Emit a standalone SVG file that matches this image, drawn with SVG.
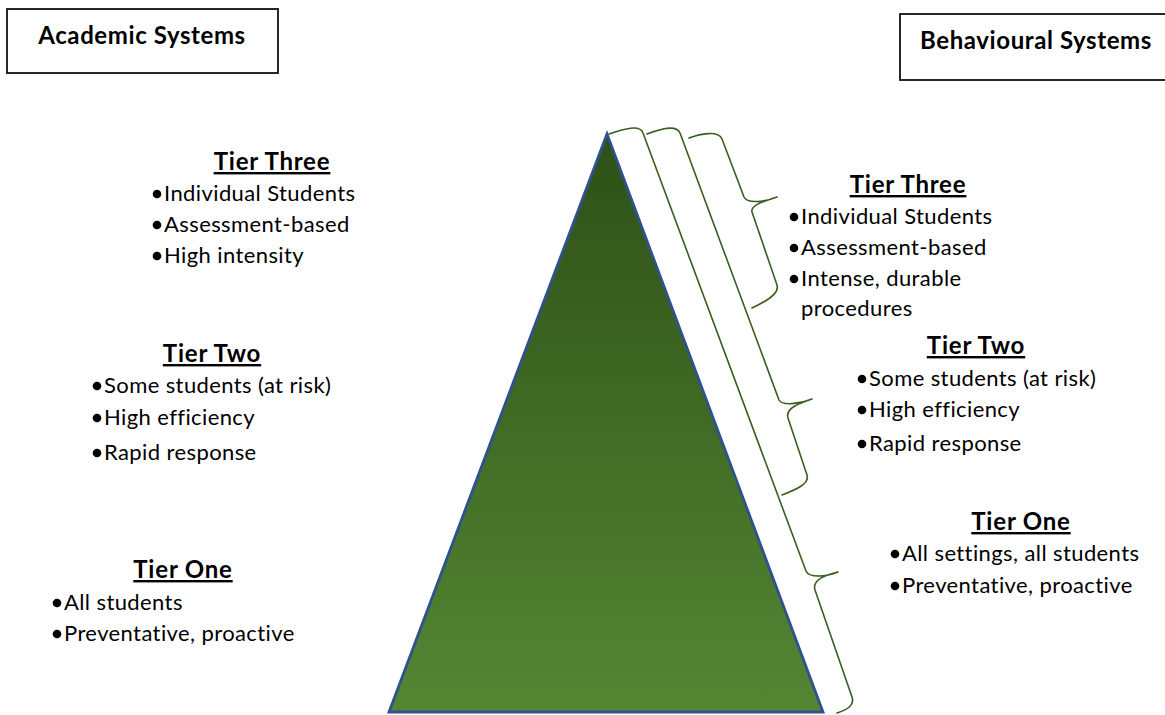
<svg xmlns="http://www.w3.org/2000/svg" width="1165" height="715" viewBox="0 0 1165 715">
  <style>
    .box { fill: #ffffff; stroke: #111111; stroke-width: 1.8; }
    .boxlabel { font-family: "Lato", "Open Sans", "Liberation Sans", sans-serif; font-weight: bold; font-size: 24px; letter-spacing: 0.6px; fill: #000000; }
    .title { font-family: "Lato", "Open Sans", "Liberation Sans", sans-serif; font-weight: bold; font-size: 24px; letter-spacing: 0.8px; fill: #000000; text-decoration: underline; }
    .item { font-family: "Lato", "Open Sans", "Liberation Sans", sans-serif; font-size: 22px; letter-spacing: 0.4px; fill: #000000; }
    .dot { fill: #000000; }
    .brace { fill: none; stroke: #3a5e1e; stroke-width: 1.6; stroke-linejoin: round; stroke-linecap: round; }
  </style>
  <defs>
    <linearGradient id="pyramidFill" x1="0" y1="0" x2="0" y2="1">
      <stop offset="0" stop-color="#2e5017"/>
      <stop offset="1" stop-color="#548633"/>
    </linearGradient>
  </defs>

  <rect width="1165" height="715" fill="#ffffff"/>

  <!-- header boxes -->
  <g id="academic-systems">
    <rect class="box" x="7" y="9" width="271" height="64"/>
    <text class="boxlabel" x="142" y="44" text-anchor="middle">Academic Systems</text>
  </g>
  <g id="behavioural-systems">
    <rect class="box" x="900" y="14" width="280" height="66"/>
    <text class="boxlabel" x="1036" y="49" text-anchor="middle">Behavioural Systems</text>
  </g>

  <!-- pyramid -->
  <g id="pyramid">
    <polygon points="607,134 389,712 823,712" fill="url(#pyramidFill)" stroke="#2f528f" stroke-width="2.8" stroke-linejoin="miter"/>
  </g>

  <!-- braces along the right slope -->
  <g id="connectors">
    <path class="brace" d="M 609,134 C 624,129 640,124 643,133 L 806,571 C 809,578 826,577 838,572 C 825,575 812,580 815,590 L 852,697 C 855,706 846,710 837,713"/>
    <path class="brace" d="M 647,134 C 660,129 676,124 680,133 L 779,400 C 782,406 800,404 812,399 C 800,403 785,408 788,418 L 807,475 C 810,484 795,490 782,495"/>
    <path class="brace" d="M 689,138 C 700,134 718,130 722,139 L 744,197 C 747,204 765,202 777,197 C 765,201 750,205 752,212 L 777,285 C 780,294 765,302 752,308"/>
  </g>

  <!-- academic tiers -->
  <g id="academic-tier-three">
    <text class="title" x="272" y="170" text-anchor="middle">Tier Three</text>
    <circle class="dot" cx="157" cy="194" r="4.3"/>
    <text class="item" x="164" y="201">Individual Students</text>
    <circle class="dot" cx="157" cy="225" r="4.3"/>
    <text class="item" x="164" y="232">Assessment-based</text>
    <circle class="dot" cx="157" cy="256" r="4.3"/>
    <text class="item" x="164" y="263">High intensity</text>
  </g>
  <g id="academic-tier-two">
    <text class="title" x="212" y="362" text-anchor="middle">Tier Two</text>
    <circle class="dot" cx="97" cy="386" r="4.3"/>
    <text class="item" x="104" y="393">Some students (at risk)</text>
    <circle class="dot" cx="97" cy="418" r="4.3"/>
    <text class="item" x="104" y="425">High efficiency</text>
    <circle class="dot" cx="97" cy="453" r="4.3"/>
    <text class="item" x="104" y="460">Rapid response</text>
  </g>
  <g id="academic-tier-one">
    <text class="title" x="183" y="578" text-anchor="middle">Tier One</text>
    <circle class="dot" cx="57" cy="603" r="4.3"/>
    <text class="item" x="64" y="610">All students</text>
    <circle class="dot" cx="57" cy="634" r="4.3"/>
    <text class="item" x="64" y="641">Preventative, proactive</text>
  </g>

  <!-- behavioural tiers -->
  <g id="behavioural-tier-three">
    <text class="title" x="908" y="193" text-anchor="middle">Tier Three</text>
    <circle class="dot" cx="794" cy="217" r="4.3"/>
    <text class="item" x="801" y="224">Individual Students</text>
    <circle class="dot" cx="794" cy="248" r="4.3"/>
    <text class="item" x="801" y="255">Assessment-based</text>
    <circle class="dot" cx="794" cy="279" r="4.3"/>
    <text class="item" x="801" y="286">Intense, durable</text>
    <text class="item" x="801" y="316">procedures</text>
  </g>
  <g id="behavioural-tier-two">
    <text class="title" x="976" y="354" text-anchor="middle">Tier Two</text>
    <circle class="dot" cx="862" cy="379" r="4.3"/>
    <text class="item" x="869" y="386">Some students (at risk)</text>
    <circle class="dot" cx="862" cy="410" r="4.3"/>
    <text class="item" x="869" y="417">High efficiency</text>
    <circle class="dot" cx="862" cy="444" r="4.3"/>
    <text class="item" x="869" y="451">Rapid response</text>
  </g>
  <g id="behavioural-tier-one">
    <text class="title" x="1021" y="530" text-anchor="middle">Tier One</text>
    <circle class="dot" cx="895" cy="554" r="4.3"/>
    <text class="item" x="902" y="561">All settings, all students</text>
    <circle class="dot" cx="895" cy="586" r="4.3"/>
    <text class="item" x="902" y="593">Preventative, proactive</text>
  </g>
</svg>
